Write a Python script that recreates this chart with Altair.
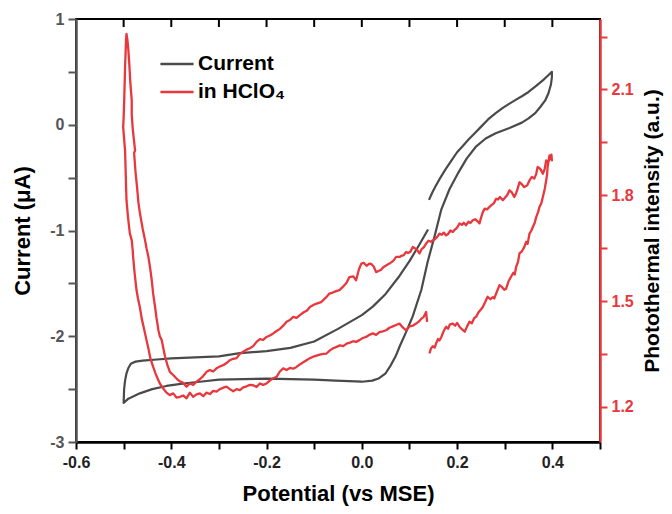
import altair as alt
import pandas as pd

# ---------------- data ----------------
# Current (left axis, µA) – one CV loop, read in scan order
cur_x = [0.141, 0.148, 0.155, 0.165, 0.176, 0.188, 0.200, 0.212, 0.224, 0.237, 0.250, 0.265, 0.281, 0.296, 0.310,
         0.323, 0.336, 0.350, 0.364, 0.380, 0.392, 0.399,
         0.399, 0.397, 0.392, 0.385, 0.375, 0.364, 0.350, 0.336, 0.310, 0.281, 0.260, 0.239, 0.220, 0.203, 0.184,
         0.167, 0.153, 0.138, 0.125, 0.107, 0.092, 0.080, 0.071, 0.060, 0.050, 0.035, 0.022, 0.000, -0.055, -0.100,
         -0.200, -0.300, -0.340, -0.380, -0.410, -0.440, -0.466, -0.490, -0.500,
         -0.499, -0.497, -0.494, -0.490, -0.485, -0.475, -0.460, -0.430, -0.400, -0.300, -0.256, -0.200, -0.150,
         -0.100, -0.050, 0.000, 0.023, 0.050, 0.079, 0.100, 0.120, 0.139]
cur_y = [-0.71, -0.64, -0.58, -0.50, -0.42, -0.34, -0.26, -0.20, -0.14, -0.08, -0.02, 0.05, 0.11, 0.16, 0.20,
         0.235, 0.27, 0.31, 0.36, 0.42, 0.47, 0.50,
         0.45, 0.38, 0.30, 0.23, 0.17, 0.11, 0.06, 0.02, -0.03, -0.08, -0.13, -0.21, -0.32, -0.45, -0.61,
         -0.80, -1.05, -1.30, -1.56, -1.81, -1.97, -2.09, -2.19, -2.28, -2.35, -2.40, -2.42, -2.43, -2.42, -2.41,
         -2.40, -2.41, -2.43, -2.45, -2.47, -2.50, -2.54, -2.59, -2.63,
         -2.50, -2.42, -2.35, -2.30, -2.26, -2.24, -2.23, -2.22, -2.21, -2.19, -2.16, -2.14, -2.11,
         -2.05, -1.93, -1.80, -1.72, -1.60, -1.43, -1.29, -1.14, -0.99]

# Photothermal intensity (right axis, a.u.) – read in scan order
pt_x = [0.142, 0.145, 0.149, 0.153, 0.156, 0.160, 0.163, 0.167, 0.171, 0.174, 0.177, 0.181, 0.185, 0.191, 0.196,
        0.200, 0.205, 0.210, 0.216, 0.221, 0.226, 0.231, 0.236, 0.240, 0.245, 0.250, 0.254, 0.259, 0.264, 0.270,
        0.275, 0.278, 0.284, 0.289, 0.294, 0.299, 0.303, 0.308, 0.313, 0.318, 0.321, 0.324, 0.328, 0.331, 0.336,
        0.341, 0.345, 0.348, 0.352, 0.356, 0.359, 0.363, 0.366, 0.370, 0.373, 0.377, 0.380, 0.384, 0.387, 0.389,
        0.390, 0.392, 0.394, 0.397, 0.399, 0.398, 0.395,
        0.391, 0.387, 0.384, 0.380, 0.376, 0.372, 0.369, 0.366, 0.362, 0.357, 0.352, 0.347, 0.341, 0.336, 0.331,
        0.327, 0.324, 0.320, 0.315, 0.310, 0.305, 0.300, 0.296, 0.290, 0.286, 0.282, 0.277, 0.272, 0.268, 0.263,
        0.258, 0.254, 0.250, 0.247, 0.243, 0.238, 0.233, 0.228, 0.224, 0.219, 0.214, 0.210, 0.205, 0.200, 0.195,
        0.191, 0.186, 0.181, 0.177, 0.172, 0.168, 0.163, 0.158, 0.154, 0.149, 0.145, 0.140, 0.135, 0.130, 0.126,
        0.121, 0.116, 0.111, 0.107, 0.102, 0.097, 0.093, 0.088, 0.083, 0.079, 0.072, 0.066, 0.060, 0.055, 0.051,
        0.045, 0.040, 0.035, 0.030, 0.025, 0.020, 0.016, 0.010, 0.004, -0.001, -0.006, -0.012, -0.018, -0.026,
        -0.032, -0.040, -0.047, -0.054, -0.061, -0.068, -0.075, -0.080, -0.085, -0.092, -0.100, -0.109, -0.115,
        -0.122, -0.130, -0.137, -0.144, -0.151, -0.158, -0.165, -0.172, -0.179, -0.186, -0.193, -0.200, -0.207,
        -0.214, -0.221, -0.228, -0.235, -0.242, -0.249, -0.256, -0.263, -0.270, -0.277, -0.284, -0.291, -0.298,
        -0.305, -0.312, -0.319, -0.326, -0.333, -0.340, -0.347, -0.354, -0.361, -0.368, -0.375, -0.382, -0.389,
        -0.396, -0.403, -0.408, -0.413, -0.417, -0.420, -0.424, -0.427, -0.431, -0.434, -0.438, -0.441, -0.444,
        -0.448, -0.452, -0.455, -0.460, -0.464, -0.467, -0.469, -0.472, -0.475, -0.478, -0.476, -0.481, -0.483,
        -0.483, -0.486, -0.488, -0.490, -0.492, -0.494,
        -0.495, -0.496, -0.497, -0.498, -0.499, -0.500, -0.501, -0.499, -0.497, -0.496, -0.495, -0.494, -0.491,
        -0.487, -0.483, -0.481, -0.480, -0.477, -0.473, -0.470, -0.466, -0.462, -0.457, -0.452, -0.448, -0.444,
        -0.438, -0.433, -0.428, -0.424, -0.417, -0.410, -0.403, -0.396, -0.389, -0.382, -0.375, -0.368, -0.361,
        -0.354, -0.347, -0.340, -0.333, -0.326, -0.319, -0.312, -0.305, -0.298, -0.291, -0.284, -0.277, -0.270,
        -0.263, -0.256, -0.249, -0.242, -0.235, -0.228, -0.221, -0.214, -0.207, -0.200, -0.193, -0.186, -0.179,
        -0.172, -0.165, -0.158, -0.151, -0.144, -0.137, -0.130, -0.123, -0.116, -0.109, -0.102, -0.095, -0.088,
        -0.081, -0.074, -0.067, -0.060, -0.053, -0.046, -0.039, -0.032, -0.025, -0.018, -0.012, -0.005, 0.002,
        0.009, 0.016, 0.023, 0.030, 0.037, 0.044, 0.051, 0.058, 0.065, 0.072, 0.079, 0.086, 0.093, 0.100, 0.107,
        0.114, 0.120, 0.125, 0.130, 0.135, 0.137]
pt_y = [1.351, 1.365, 1.372, 1.368, 1.380, 1.392, 1.388, 1.398, 1.412, 1.420, 1.427, 1.421, 1.434, 1.436, 1.430,
        1.438, 1.427, 1.420, 1.413, 1.428, 1.441, 1.437, 1.452, 1.455, 1.468, 1.476, 1.483, 1.497, 1.512, 1.505,
        1.511, 1.507, 1.528, 1.545, 1.540, 1.532, 1.535, 1.556, 1.568, 1.580, 1.575, 1.597, 1.612, 1.635, 1.641,
        1.653, 1.668, 1.662, 1.691, 1.700, 1.710, 1.722, 1.738, 1.752, 1.767, 1.778, 1.795, 1.818, 1.842, 1.860,
        1.880, 1.898, 1.913, 1.905, 1.899, 1.915, 1.906,
        1.892, 1.899, 1.875, 1.861, 1.872, 1.878, 1.880, 1.860, 1.847, 1.852, 1.842, 1.828, 1.823, 1.831, 1.837,
        1.818, 1.806, 1.795, 1.808, 1.814, 1.800, 1.792, 1.786, 1.795, 1.788, 1.790, 1.777, 1.772, 1.767, 1.760,
        1.762, 1.752, 1.735, 1.720, 1.726, 1.732, 1.729, 1.721, 1.725, 1.715, 1.722, 1.716, 1.720, 1.708, 1.702,
        1.696, 1.700, 1.690, 1.686, 1.694, 1.688, 1.691, 1.681, 1.676, 1.672, 1.668, 1.671, 1.663, 1.652, 1.648,
        1.635, 1.645, 1.650, 1.653, 1.640, 1.636, 1.639, 1.630, 1.628, 1.625, 1.625, 1.614, 1.608, 1.604, 1.601,
        1.596, 1.588, 1.585, 1.582, 1.598, 1.605, 1.606, 1.600, 1.608, 1.606, 1.590, 1.559, 1.570, 1.568,
        1.552, 1.540, 1.531, 1.528, 1.524, 1.521, 1.510, 1.504, 1.497, 1.494, 1.490, 1.483, 1.473,
        1.468, 1.460, 1.452, 1.455, 1.446, 1.441, 1.430, 1.421, 1.415, 1.408, 1.402, 1.398, 1.390,
        1.392, 1.384, 1.372, 1.366, 1.362, 1.356, 1.350, 1.338, 1.336, 1.332, 1.324, 1.318, 1.314,
        1.309, 1.300, 1.304, 1.299, 1.287, 1.278, 1.271, 1.262, 1.266, 1.257, 1.268, 1.272, 1.280,
        1.290, 1.299, 1.318, 1.342, 1.368, 1.389, 1.400, 1.417, 1.452, 1.483, 1.520, 1.559, 1.590,
        1.625, 1.650, 1.672, 1.705, 1.735, 1.760, 1.780, 1.825, 1.865, 1.920, 1.927, 1.990, 2.030,
        2.069, 2.120, 2.170, 2.210, 2.240, 2.258,
        2.240, 2.200, 2.163, 2.110, 2.060, 2.020, 1.993, 1.960, 1.927, 1.880, 1.830, 1.786, 1.740,
        1.692, 1.672, 1.645, 1.624, 1.580, 1.531, 1.508, 1.483, 1.450, 1.420, 1.389, 1.365, 1.338,
        1.313, 1.294, 1.278, 1.266, 1.252, 1.240, 1.233, 1.238, 1.226, 1.228, 1.232, 1.224, 1.240,
        1.228, 1.235, 1.238, 1.230, 1.240, 1.236, 1.245, 1.243, 1.250, 1.254, 1.257, 1.250, 1.244,
        1.250, 1.247, 1.255, 1.258, 1.262, 1.261, 1.256, 1.266, 1.262, 1.266, 1.274, 1.281, 1.285,
        1.300, 1.309, 1.304, 1.310, 1.308, 1.313, 1.320, 1.326, 1.332, 1.338, 1.342, 1.345, 1.348,
        1.350, 1.351, 1.360, 1.366, 1.370, 1.374, 1.372, 1.379, 1.382, 1.386, 1.384, 1.389, 1.395,
        1.398, 1.404, 1.408, 1.404, 1.412, 1.414, 1.417, 1.424, 1.428, 1.432, 1.436, 1.425, 1.417, 1.428, 1.430,
        1.436, 1.442, 1.450, 1.455, 1.469, 1.441]

series_names = ["Current", "in HClO\u2084"]
series_colors = ["#4a4a4a", "#e8383d"]

x_ticks = [-0.6, -0.5, -0.4, -0.3, -0.2, -0.1, 0.0, 0.1, 0.2, 0.3, 0.4, 0.5]
left_ticks = [-3, -2.5, -2, -1.5, -1, -0.5, 0, 0.5, 1]
right_ticks = [1.2, 1.35, 1.5, 1.65, 1.8, 1.95, 2.1, 2.25]

# ---------------- chart ----------------
FONT = "Liberation Sans"
RED = series_colors[1]

cur_df = pd.DataFrame({"x": cur_x, "y": cur_y, "i": range(len(cur_x)), "s": series_names[0]})
pt_df = pd.DataFrame({"x": pt_x, "y": pt_y, "i": range(len(pt_x)), "s": series_names[1]})
top_df = pd.DataFrame({"x": x_ticks[1:-1]})

xscale = alt.Scale(domain=[-0.6, 0.5], nice=False, zero=False)
color = alt.Color("s:N", scale=alt.Scale(domain=series_names, range=series_colors),
                  legend=alt.Legend(title=None, orient="none", legendX=83, legendY=27,
                                    symbolType="stroke", symbolSize=1100, symbolStrokeWidth=2.5,
                                    labelFont=FONT, labelFontSize=21, labelFontWeight="bold",
                                    labelColor="black", rowPadding=0, labelOffset=3, padding=0))

xaxis = alt.Axis(values=x_ticks, title="Potential (vs MSE)",
                 labelExpr="round(datum.value*10) % 2 == 0 ? replace(format(datum.value, '.1f'), '\u2212', '-') : ''",
                 domainColor="black", domainWidth=2.5, tickColor="black", tickWidth=2, tickSize=7,
                 labelFont=FONT, labelFontSize=16, labelFontWeight="bold", labelColor="#222",
                 labelPadding=5, titleFont=FONT, titleFontSize=22, titleFontWeight="bold",
                 titleColor="black", titlePadding=13, grid=False, labelFlush=False)

left_axis = alt.Axis(values=left_ticks, title="Current (\u03bcA)",
                     labelExpr="round(datum.value*2) % 2 == 0 ? (datum.value + '') : ''",
                     domainColor="#555", domainWidth=2.5, tickColor="#555", tickWidth=2, tickSize=8,
                     labelFont=FONT, labelFontSize=16, labelFontWeight="bold", labelColor="#555",
                     labelPadding=4, titleFont=FONT, titleFontSize=22, titleFontWeight="bold",
                     titleColor="black", titlePadding=15, grid=False, labelFlush=False)

right_axis = alt.Axis(values=right_ticks, title="Photothermal intensity (a.u.)", orient="right",
                      labelExpr="round(datum.value*100) % 30 == 0 ? format(datum.value, '.1f') : ''",
                      domainColor=RED, domainWidth=2.5, tickColor=RED, tickWidth=2, tickSize=7,
                      labelFont=FONT, labelFontSize=16, labelFontWeight="bold", labelColor=RED,
                      labelPadding=4, titleFont=FONT, titleFontSize=21, titleFontWeight="bold",
                      titleColor="black", titlePadding=8, titleAngle=270, titleBaseline="top",
                      grid=False, labelFlush=False)

cur_line = alt.Chart(cur_df).mark_line(strokeWidth=2.2, strokeJoin="round").encode(
    x=alt.X("x:Q", scale=xscale, axis=xaxis),
    y=alt.Y("y:Q", scale=alt.Scale(domain=[-3, 1], nice=False, zero=False), axis=left_axis),
    order=alt.Order("i:Q"),
    color=color,
)

pt_line = alt.Chart(pt_df).mark_line(strokeWidth=2.3, strokeJoin="round").encode(
    x=alt.X("x:Q", scale=xscale, axis=xaxis),
    y=alt.Y("y:Q", scale=alt.Scale(domain=[1.1, 2.3], nice=False, zero=False), axis=right_axis),
    order=alt.Order("i:Q"),
    color=color,
)

top_ticks = alt.Chart(top_df).mark_rule(color="black", strokeWidth=2).encode(
    x=alt.X("x:Q", scale=xscale, axis=xaxis),
    y=alt.value(0),
    y2=alt.value(8),
)

chart = alt.layer(cur_line, pt_line, top_ticks).resolve_scale(
    y="independent"
).properties(
    width=524, height=423,
    autosize=alt.AutoSizeParams(type="none"),
    padding={"left": 68, "top": 11, "right": 64, "bottom": 64},
).configure_view(
    stroke="black", strokeWidth=2
)

chart.save("out.html", embed_options={"renderer": "svg", "actions": False})
